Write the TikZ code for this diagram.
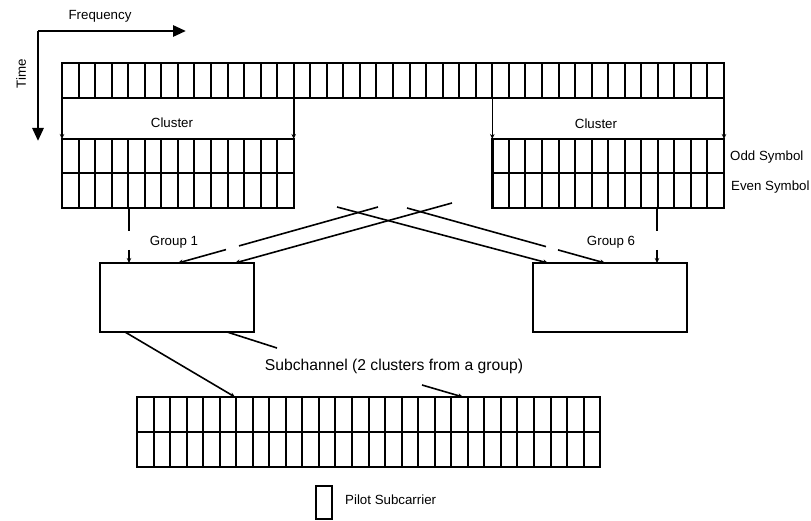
\documentclass[tikz,border=0pt]{standalone}
\usepackage{fontspec}
\setmainfont{Liberation Sans}
\usetikzlibrary{arrows.meta}
\begin{document}
\begin{tikzpicture}[x=1pt,y=-1pt,
  cellline/.style={line width=2pt},
  frame/.style={draw, line width=2.4pt, inner sep=0pt, outer sep=0pt, anchor=north west},
  conn/.style={line width=1.6pt},
  tip/.style={conn, -{Stealth[length=5pt,width=4.5pt]}},
  axis/.style={line width=2.8pt, -{Triangle[length=13pt,width=11pt]}},
  lbl/.style={font=\fontsize{13.3}{15}\selectfont, inner sep=0pt},
]
\useasboundingbox (0,0) rectangle (811,521);

% axes
\coordinate (origin) at (38,31);
\coordinate (freqend) at (186,31);
\coordinate (timeend) at (38,141);
\draw[axis] (origin) -- (freqend);
\draw[axis] (origin) -- (timeend);
\node[lbl] (freq) at (100,16) {Frequency};
\node[lbl, rotate=90] (time) at (21,74) {Time};

% top strip: 40 subcarriers
\node[frame, minimum width=662pt, minimum height=35pt] (top) at (62,63) {};
\foreach \i in {1,...,39} \draw[cellline] (62+\i*16.55,63) -- (62+\i*16.55,98);

% left cluster
\node[frame, minimum width=231.7pt, minimum height=69pt] (lcl) at (62,139) {};
\draw[cellline] (62,173.5) -- (293.7,173.5);
\foreach \i in {1,...,13} \draw[cellline] (62+\i*16.55,139) -- (62+\i*16.55,208);

% right cluster
\node[frame, minimum width=231.7pt, minimum height=69pt] (rcl) at (492.3,139) {};
\draw[cellline] (492.3,173.5) -- (724,173.5);
\foreach \i in {1,...,13} \draw[cellline] (492.3+\i*16.55,139) -- (492.3+\i*16.55,208);

% cluster arrows
\draw[tip] (top.south west) -- (lcl.north west);
\draw[tip] (lcl.north east |- top.south) -- (lcl.north east);
\draw[tip] (rcl.north west |- top.south) -- (rcl.north west);
\draw[tip] (top.south east) -- (rcl.north east);
\node[lbl] (cl1) at (172,123) {Cluster};
\node[lbl] (cl2) at (596,124) {Cluster};
\node[lbl, anchor=west] (odd) at (730,157) {Odd Symbol};
\node[lbl, anchor=west] (even) at (731,187) {Even Symbol};

% group boxes
\node[frame, minimum width=154pt, minimum height=69pt, line width=2.8pt] (lbox) at (100,263) {};
\node[frame, minimum width=154pt, minimum height=69pt, line width=2.8pt] (rbox) at (533,263) {};
\node[lbl] (g1) at (174,242) {Group 1};
\node[lbl] (g6) at (611,242) {Group 6};

% drops from clusters to groups
\coordinate (ld1) at (129,208);
\coordinate (ld2) at (129,231);
\coordinate (ld3) at (129,250);
\coordinate (ld4) at (129,263);
\draw[conn] (ld1) -- (ld2);
\draw[tip] (ld3) -- (ld4);
\coordinate (rd1) at (657,208);
\coordinate (rd2) at (657,231);
\coordinate (rd3) at (657,250);
\coordinate (rd4) at (657,263);
\draw[conn] (rd1) -- (rd2);
\draw[tip] (rd3) -- (rd4);

% crossing lines
\coordinate (a1) at (378,207);
\coordinate (a2) at (239,245.9);
\coordinate (a3) at (226,249.6);
\coordinate (a4) at (178,263);
\draw[conn] (a1) -- (a2);
\draw[tip] (a3) -- (a4);
\coordinate (b1) at (452,203);
\coordinate (b2) at (235,263);
\draw[tip] (b1) -- (b2);
\coordinate (c1) at (337,207);
\coordinate (c2) at (548,263);
\draw[tip] (c1) -- (c2);
\coordinate (d1) at (407,208);
\coordinate (d2) at (546,246.6);
\coordinate (d3) at (558,249.9);
\coordinate (d4) at (605,263);
\draw[conn] (d1) -- (d2);
\draw[tip] (d3) -- (d4);

% bottom strip: 28 subcarriers
\node[frame, minimum width=463pt, minimum height=70pt] (bot) at (137,397) {};
\draw[cellline] (137,432) -- (600,432);
\foreach \i in {1,...,27} \draw[cellline] (137+\i*16.54,397) -- (137+\i*16.54,467);

% subchannel connectors
\coordinate (s1) at (125,332);
\coordinate (s2) at (235,397);
\draw[tip] (s1) -- (s2);
\coordinate (p1) at (227,332);
\coordinate (p2) at (277,348);
\draw[conn] (p1) -- (p2);
\coordinate (q1) at (422,385);
\coordinate (q2) at (463,397);
\draw[tip] (q1) -- (q2);
\node[font=\fontsize{15.7}{18}\selectfont, inner sep=0pt] (sub) at (394,366) {Subchannel (2 clusters from a group)};

% legend
\node[frame, minimum width=16pt, minimum height=33pt] (pilot) at (316,486) {};
\node[lbl, anchor=west] (pilotlbl) at (345,500) {Pilot Subcarrier};
\end{tikzpicture}
\end{document}
